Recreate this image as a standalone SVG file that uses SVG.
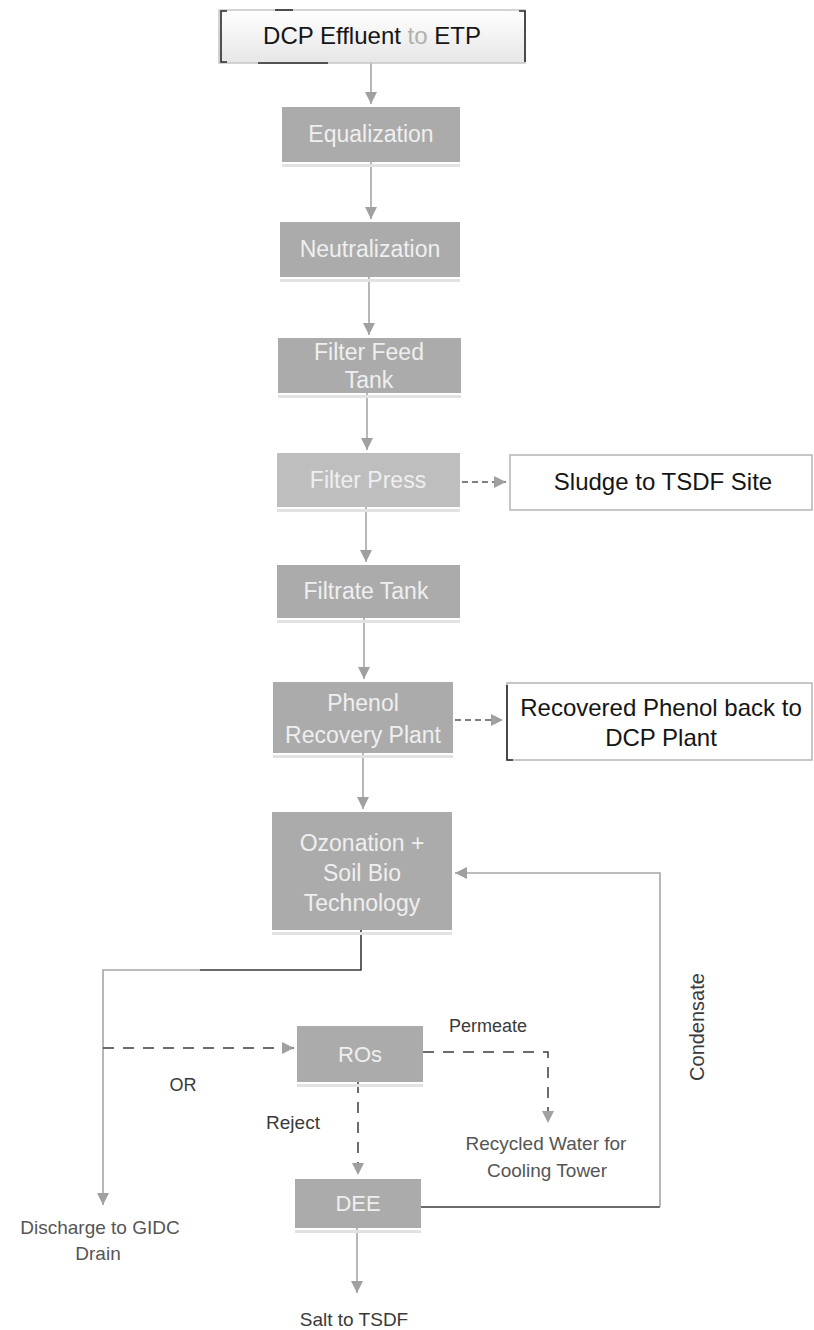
<svg xmlns="http://www.w3.org/2000/svg" width="814" height="1330" viewBox="0 0 814 1330">
<style>
.bg{fill:#ffffff}
.gbox{fill:#ababab}
.shadow{fill:#e2e2e2}
.gtxt{font-family:"Liberation Sans",Arial,sans-serif;font-size:23px;fill:#efefef;text-anchor:middle}
.btxt{font-family:"Liberation Sans",Arial,sans-serif;font-size:24px;fill:#151515;text-anchor:middle}
.lbl{font-family:"Liberation Sans",Arial,sans-serif;font-size:19px;fill:#3a3a3a;text-anchor:middle}
.lbl2{font-family:"Liberation Sans",Arial,sans-serif;font-size:19px;fill:#555555;text-anchor:middle}
.flow{stroke:#a6a6a6;stroke-width:1.6;fill:none}
.arrow{marker-end:url(#ah)}
.dash{stroke:#3c3c3c;stroke-width:1.5;stroke-dasharray:11 9;fill:none}
.sdash{stroke:#555555;stroke-width:1.3;stroke-dasharray:6 4;fill:none}
.dark{stroke:#3a3a3a;stroke-width:1.6;fill:none}
.wbox{fill:#ffffff;stroke:#b5b5b5;stroke-width:1.5}
.edge{stroke:#2a2a2a;stroke-width:1.6;fill:none}
</style>
<defs>
<marker id="ah" viewBox="0 0 10 10" refX="10" refY="5" markerUnits="userSpaceOnUse" markerWidth="15" markerHeight="12" orient="auto">
<path d="M0,0 L10,5 L0,10 z" fill="#a0a0a0"/>
</marker>
<linearGradient id="topg" x1="0" y1="0" x2="0" y2="1">
<stop offset="0" stop-color="#ffffff"/>
<stop offset="1" stop-color="#e6e6e6"/>
</linearGradient>
</defs>
<rect class="bg" x="0" y="0" width="814" height="1330"/>

<g id="connectors">
<path class="flow arrow" d="M371,63 V104"/>
<path class="flow arrow" d="M371,162 V219"/>
<path class="flow arrow" d="M369,277 V335"/>
<path class="flow arrow" d="M367,393 V450"/>
<path class="flow arrow" d="M366,507 V562"/>
<path class="flow arrow" d="M364,618 V679"/>
<path class="flow arrow" d="M363,753 V809"/>
<path class="dark" d="M361,930 V970 H200"/>
<path class="flow arrow" d="M200,970 H103 V1205"/>
<path class="dash arrow" d="M103,1048 H294"/>
<path class="dash arrow" d="M423,1052 H548 V1123"/>
<path class="dash arrow" d="M358,1082 V1175"/>
<path class="flow arrow" d="M357,1228 V1293"/>
<path class="dark" d="M421,1207 H660"/>
<path class="flow arrow" d="M660,1207 V873 H455"/>
<path class="sdash arrow" d="M462,482 H506"/>
<path class="sdash arrow" d="M455,720 H503"/>
</g>

<g id="n-source">
<rect x="219" y="10" width="306" height="53" fill="url(#topg)" stroke="#c6c6c6" stroke-width="1.5"/>
<path class="edge" d="M227,11 H221 V62 H227"/>
<path class="edge" d="M519,11 H525 V62"/>
<path class="edge" d="M275,10 H293"/>
<path class="edge" d="M258,63 H328"/>
<text class="btxt" x="372" y="44">DCP Effluent <tspan fill="#b0b0b0">to</tspan> ETP</text>
</g>

<g id="n-equalization">
<rect class="shadow" x="282" y="164" width="178" height="3"/>
<rect class="gbox" x="282" y="107" width="178" height="55"/>
<text class="gtxt" x="371" y="142">Equalization</text>
</g>

<g id="n-neutralization">
<rect class="shadow" x="280" y="279" width="180" height="3"/>
<rect class="gbox" x="280" y="222" width="180" height="55"/>
<text class="gtxt" x="370" y="257">Neutralization</text>
</g>

<g id="n-filterfeed">
<rect class="shadow" x="278" y="395" width="183" height="3"/>
<rect class="gbox" x="278" y="338" width="183" height="55"/>
<text class="gtxt" x="369" y="360">Filter Feed</text>
<text class="gtxt" x="369" y="388">Tank</text>
</g>

<g id="n-filterpress">
<rect class="shadow" x="277" y="509" width="183" height="3"/>
<rect x="277" y="453" width="183" height="54" fill="#bebebe"/>
<text class="gtxt" x="368" y="488">Filter Press</text>
</g>

<g id="n-filtrate">
<rect class="shadow" x="277" y="620" width="183" height="3"/>
<rect class="gbox" x="277" y="565" width="183" height="53" fill="#b2b2b2"/>
<text class="gtxt" x="366" y="599">Filtrate Tank</text>
</g>

<g id="n-phenol">
<rect class="shadow" x="273" y="755" width="180" height="3"/>
<rect class="gbox" x="273" y="682" width="180" height="71"/>
<text class="gtxt" x="363" y="711">Phenol</text>
<text class="gtxt" x="363" y="743">Recovery Plant</text>
</g>

<g id="n-ozonation">
<rect class="shadow" x="272" y="932" width="180" height="3"/>
<rect class="gbox" x="272" y="812" width="180" height="118" fill="#a9a9a9"/>
<text class="gtxt" x="362" y="851">Ozonation +</text>
<text class="gtxt" x="362" y="881">Soil Bio</text>
<text class="gtxt" x="362" y="911">Technology</text>
</g>

<g id="n-sludge">
<rect class="wbox" x="510" y="455" width="302" height="55"/>
<text class="btxt" x="663" y="490">Sludge to TSDF Site</text>
</g>

<g id="n-recovered">
<rect class="wbox" x="507" y="683" width="305" height="77"/>
<path class="edge" d="M507,685 V760 H513"/>
<text class="btxt" x="661" y="716">Recovered Phenol back to</text>
<text class="btxt" x="661" y="746">DCP Plant</text>
</g>

<g id="n-ro">
<rect class="shadow" x="297" y="1084" width="126" height="3"/>
<rect class="gbox" x="297" y="1026" width="126" height="56" fill="#b3b3b3"/>
<text class="gtxt" x="360" y="1062" style="font-size:22px">ROs</text>
</g>

<g id="n-dee">
<rect class="shadow" x="295" y="1230" width="126" height="3"/>
<rect class="gbox" x="295" y="1179" width="126" height="49" fill="#b0b0b0"/>
<text class="gtxt" x="358" y="1211" style="font-size:22px">DEE</text>
</g>

<g id="labels">
<text class="lbl" x="488" y="1032" style="font-size:18px">Permeate</text>
<text class="lbl" x="183" y="1091" style="font-size:18px">OR</text>
<text class="lbl" x="293" y="1129">Reject</text>
<text class="lbl2" x="546" y="1150">Recycled Water for</text>
<text class="lbl2" x="547" y="1177">Cooling Tower</text>
<text class="lbl" x="697" y="1034" transform="rotate(-90 697 1027)" style="font-size:20px">Condensate</text>
<text class="lbl2" x="100" y="1234">Discharge to GIDC</text>
<text class="lbl2" x="98" y="1260">Drain</text>
<text class="lbl" x="354" y="1326">Salt to TSDF</text>
</g>
</svg>
